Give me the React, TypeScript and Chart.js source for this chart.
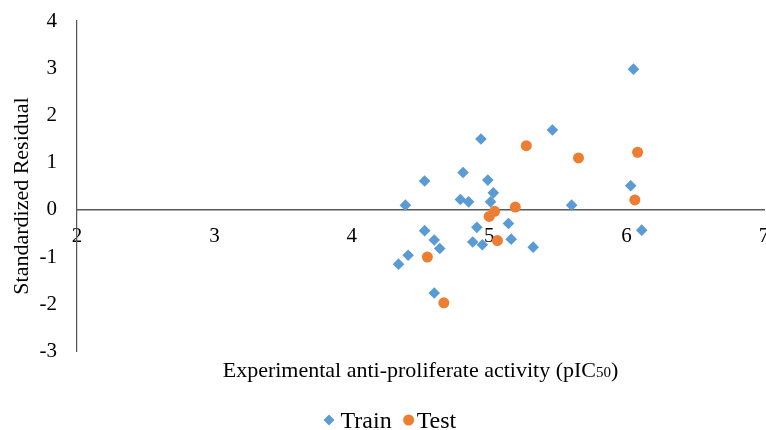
import React, { useEffect, useRef } from 'react';
import { Chart, registerables } from 'chart.js';

Chart.register(...registerables);

// Standardized residuals vs. experimental pIC50
const trainX = [5.46, 4.94, 4.81, 4.53, 4.99, 5.03, 4.79, 4.85, 5.01, 4.39, 5.6, 4.53, 4.91, 5.14, 4.6, 4.64, 4.88, 4.95, 5.16, 5.32, 4.41, 4.34, 4.6, 6.05, 6.03, 6.11];
const trainY = [1.69, 1.5, 0.79, 0.61, 0.63, 0.36, 0.22, 0.17, 0.17, 0.1, 0.1, -0.44, -0.37, -0.29, -0.64, -0.82, -0.68, -0.74, -0.62, -0.79, -0.96, -1.15, -1.76, 2.98, 0.51, -0.43];
const testX = [5.27, 5.65, 6.08, 6.06, 5.19, 5.04, 5.0, 5.06, 4.55, 4.67];
const testY = [1.36, 1.1, 1.22, 0.21, 0.06, -0.03, -0.14, -0.65, -1.0, -1.97];

const seriesNames = ['Train', 'Test'];
const seriesColors = ['#5B9BD5', '#ED7D31'];
const xRange = [2, 7];
const yRange = [-3, 4];
const xTitleMain = 'Experimental anti-proliferate activity (pIC';
const xTitleSub = '50';
const xTitleEnd = ')';
const yTitle = 'Standardized Residual';

const FONT = '"Liberation Serif", "Times New Roman", serif';
const AXIS_COLOR = '#595959';

const toPoints = (xs: number[], ys: number[]) => xs.map((x, i) => ({ x, y: ys[i] }));

// Axis titles and the legend, drawn after the chart
const decorations = {
  id: 'decorations',
  afterDraw(chart: Chart) {
    const { ctx, chartArea } = chart;
    ctx.save();
    ctx.fillStyle = '#000';

    // y title
    ctx.font = `22px ${FONT}`;
    ctx.textAlign = 'center';
    ctx.textBaseline = 'middle';
    ctx.save();
    ctx.translate(22, 196);
    ctx.rotate(-Math.PI / 2);
    ctx.fillText(yTitle, 0, 0);
    ctx.restore();

    // x title with smaller "50"
    const mainFont = `22px ${FONT}`;
    const subFont = `15px ${FONT}`;
    ctx.font = mainFont;
    const wMain = ctx.measureText(xTitleMain).width;
    const wEnd = ctx.measureText(xTitleEnd).width;
    ctx.font = subFont;
    const wSub = ctx.measureText(xTitleSub).width;
    const total = wMain + wSub + wEnd;
    const cx = (chartArea.left + chartArea.right) / 2;
    let x = cx - total / 2;
    const baseY = 377;
    ctx.textAlign = 'left';
    ctx.textBaseline = 'alphabetic';
    ctx.font = mainFont;
    ctx.fillText(xTitleMain, x, baseY);
    x += wMain;
    ctx.font = subFont;
    ctx.fillText(xTitleSub, x, baseY);
    x += wSub;
    ctx.font = mainFont;
    ctx.fillText(xTitleEnd, x, baseY);

    // legend
    const ly = 420;
    ctx.font = `24px ${FONT}`;
    ctx.textBaseline = 'middle';
    let lx = 329;
    ctx.fillStyle = seriesColors[0];
    ctx.beginPath();
    ctx.moveTo(lx, ly - 5.5);
    ctx.lineTo(lx + 5.5, ly);
    ctx.lineTo(lx, ly + 5.5);
    ctx.lineTo(lx - 5.5, ly);
    ctx.closePath();
    ctx.fill();
    ctx.fillStyle = '#000';
    ctx.fillText(seriesNames[0], lx + 11.5, ly + 1.5);
    lx += 11.5 + ctx.measureText(seriesNames[0]).width + 17;
    ctx.fillStyle = seriesColors[1];
    ctx.beginPath();
    ctx.arc(lx, ly, 5.5, 0, Math.PI * 2);
    ctx.fill();
    ctx.fillStyle = '#000';
    ctx.fillText(seriesNames[1], lx + 8, ly + 1.5);

    ctx.restore();
  },
};

export default function App() {
  const canvasRef = useRef<HTMLCanvasElement | null>(null);

  useEffect(() => {
    const canvas = canvasRef.current;
    if (!canvas) return;
    const chart = new Chart(canvas, {
      type: 'scatter',
      data: {
        datasets: [
          {
            label: seriesNames[0],
            data: toPoints(trainX, trainY),
            pointStyle: 'rectRot',
            pointRadius: 5.8,
            pointHoverRadius: 5.8,
            backgroundColor: seriesColors[0],
            borderColor: seriesColors[0],
            borderWidth: 0,
          },
          {
            label: seriesNames[1],
            data: toPoints(testX, testY),
            pointStyle: 'circle',
            pointRadius: 5.5,
            pointHoverRadius: 5.5,
            backgroundColor: seriesColors[1],
            borderColor: seriesColors[1],
            borderWidth: 0,
          },
        ],
      },
      options: {
        responsive: false,
        animation: false,
        layout: { autoPadding: false, padding: { left: 0, top: 21, right: 2, bottom: 78.5 } },
        plugins: {
          legend: { display: false },
          tooltip: { enabled: false },
        },
        scales: {
          x: {
            type: 'linear',
            position: { y: 0 },
            min: xRange[0],
            max: xRange[1],
            ticks: {
              stepSize: 1,
              padding: 14,
              color: '#000',
              font: { family: FONT, size: 21 },
            },
            grid: { display: false, drawTicks: false },
            border: { display: true, color: AXIS_COLOR, width: 1.5 },
            afterFit: (scale: any) => {
              scale.paddingLeft = 0;
              scale.paddingRight = 0;
            },
          },
          y: {
            type: 'linear',
            position: 'left',
            min: yRange[0],
            max: yRange[1],
            ticks: {
              stepSize: 1,
              padding: 20,
              color: '#000',
              font: { family: FONT, size: 21 },
            },
            grid: { display: false, drawTicks: false },
            border: { display: true, color: AXIS_COLOR, width: 1.25 },
            afterFit: (scale: any) => {
              scale.width = 77;
              scale.paddingTop = 0;
              scale.paddingBottom = 0;
            },
          },
        },
      },
      plugins: [decorations],
    });
    return () => chart.destroy();
  }, []);

  return (
    <div style={{ position: 'fixed', left: 0, top: 0, width: 766, height: 430, background: '#fff' }}>
      <canvas ref={canvasRef} width={766} height={430} style={{ width: 766, height: 430 }} />
    </div>
  );
}
